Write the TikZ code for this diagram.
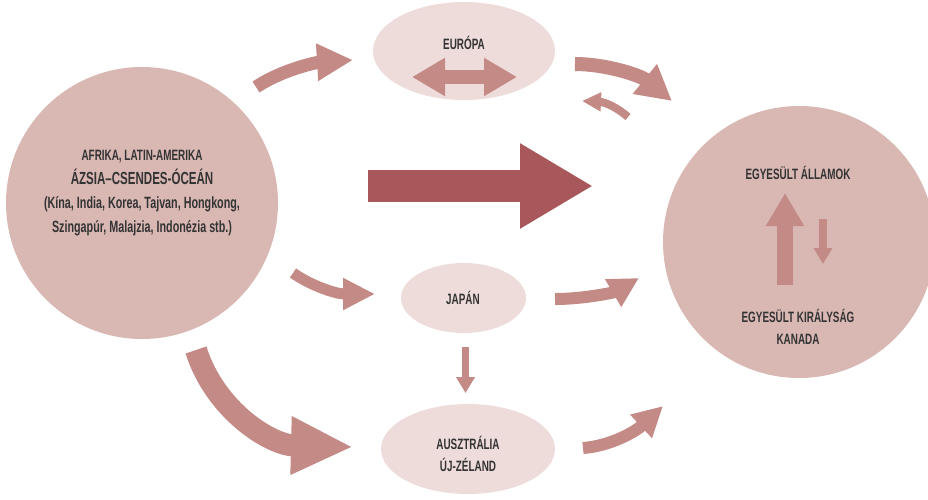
\documentclass[tikz,border=0pt]{standalone}
\usepackage{fontspec}
\setmainfont{Liberation Sans}[FakeStretch=0.66]
\usetikzlibrary{arrows.meta,shapes.geometric}
\definecolor{circ}{HTML}{D9B8B4}
\definecolor{ell}{HTML}{EEDCDB}
\definecolor{arr}{HTML}{C48A86}
\definecolor{bigarr}{HTML}{A8585A}
\definecolor{txt}{HTML}{333333}
\tikzset{
  region/.style={circle, fill=circ, inner sep=0pt, minimum size=272pt},
  country/.style={ellipse, fill=ell, inner sep=0pt},
  lbl/.style={text=txt, align=center, font=\bfseries\fontsize{15}{22}\selectfont},
  flow/.style={draw=arr, line width=#1},
}
\begin{document}
\begin{tikzpicture}[x=1pt,y=-1pt]
\useasboundingbox (0,0) rectangle (928,499);
% regions
\node[region] (src) at (142,203) {};
\node[region] (usa) at (799,242) {};
\node[country, minimum width=182pt, minimum height=98pt] (eu) at (464,51) {};
\node[country, minimum width=125pt, minimum height=70pt] (jp) at (463.5,298) {};
\node[country, minimum width=174pt, minimum height=90pt] (au) at (468,449) {};
% labels
\node[lbl, font=\bfseries\fontsize{15}{24}\selectfont] (srcl) at (142,193) {%
  AFRIKA, LATIN-AMERIKA\\
  {\fontsize{17.5}{24}\selectfont ÁZSIA–CSENDES-ÓCEÁN}\\
  {\fontsize{16.3}{24}\selectfont (Kína, India, Korea, Tajvan, Hongkong,}\\
  {\fontsize{16.3}{24}\selectfont Szingapúr, Malajzia, Indonézia stb.)}};
\node[lbl] (usal) at (798,173) {EGYESÜLT ÁLLAMOK};
\node[lbl] (ukl) at (798,327) {EGYESÜLT KIRÁLYSÁG\\KANADA};
\node[lbl] (eul) at (464,43) {EURÓPA};
\node[lbl] (jpl) at (463,298) {JAPÁN};
\node[lbl] (aul) at (468,453.5) {AUSZTRÁLIA\\ÚJ-ZÉLAND};
% connector end points
\coordinate (a1s) at (256,87);  \coordinate (a1e) at (353,60);
\coordinate (a2s) at (575,64);  \coordinate (a2e) at (672,101);
\coordinate (a3s) at (628,117); \coordinate (a3e) at (582,101);
\coordinate (a4s) at (293,273); \coordinate (a4e) at (375,294);
\coordinate (a5s) at (555,299); \coordinate (a5e) at (639,278);
\coordinate (a6s) at (196,350); \coordinate (a6e) at (353,447);
\coordinate (a7s) at (583,448); \coordinate (a7e) at (663,406);
\coordinate (bs) at (368,186);  \coordinate (be) at (593,186);
\coordinate (eus) at (412,77);  \coordinate (eue) at (517,77);
\coordinate (jps) at (465.5,347); \coordinate (jpe) at (465.5,393);
\coordinate (ups) at (785,285); \coordinate (upe) at (785,193);
\coordinate (dns) at (823,219); \coordinate (dne) at (823,264);
% curved flows
\draw[flow=13pt, -{Triangle[length=36pt,width=35pt]}] (a1s) .. controls (285,68) and (320,62) .. (a1e);
\draw[flow=14pt, -{Triangle[length=35pt,width=36pt]}] (a2s) .. controls (605,64) and (640,75) .. (a2e);
\draw[flow=8pt, -{Triangle[length=19pt,width=18pt]}] (a3s) .. controls (618,108) and (605,102) .. (a3e);
\draw[flow=11pt, -{Triangle[length=32pt,width=30pt]}] (a4s) .. controls (310,285) and (335,294) .. (a4e);
\draw[flow=12pt, -{Triangle[length=30pt,width=30pt]}] (a5s) .. controls (585,299) and (615,292) .. (a5e);
\draw[flow=22pt, -{Triangle[length=62pt,width=54pt]}] (a6s) .. controls (215,410) and (270,445) .. (a6e);
\draw[flow=12pt, -{Triangle[length=30pt,width=30pt]}] (a7s) .. controls (610,446) and (635,432) .. (a7e);
% straight flows
\draw[draw=bigarr, line width=32pt, -{Triangle[length=73pt,width=80pt]}] (bs) -- (be);
\draw[flow=14pt, {Triangle[length=33pt,width=36pt]}-{Triangle[length=33pt,width=36pt]}] (eus) -- (eue);
\draw[flow=7pt, -{Triangle[length=16pt,width=18pt]}] (jps) -- (jpe);
\draw[flow=16pt, -{Triangle[length=33pt,width=36pt]}] (ups) -- (upe);
\draw[flow=8pt, -{Triangle[length=16pt,width=18pt]}] (dns) -- (dne);
\end{tikzpicture}
\end{document}
